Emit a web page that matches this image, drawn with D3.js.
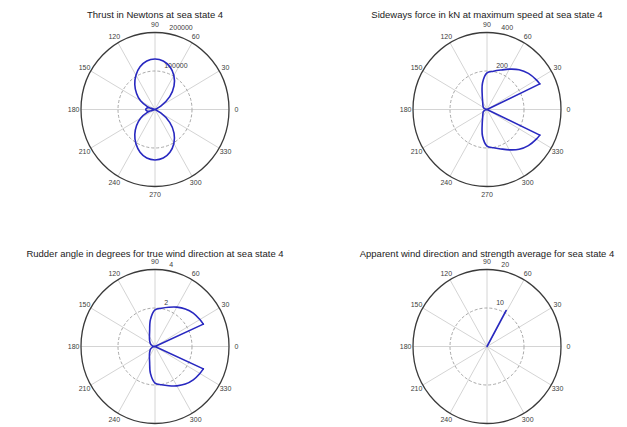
<!DOCTYPE html>
<html><head><meta charset="utf-8">
<script src="https://cdn.jsdelivr.net/npm/d3@7"></script>
<style>body{margin:0;background:#fff}svg{display:block}</style>
</head><body>
<svg id="c" width="627" height="427"></svg>
<script>
// ---- data ----
const titles = [
  "Thrust in Newtons at sea state 4",
  "Sideways force in kN at maximum speed at sea state 4",
  "Rudder angle in degrees for true wind direction at sea state 4",
  "Apparent wind direction and strength average for sea state 4"
];
const rMaxes = [200000, 400, 4, 20];
const rTicks = [[100000, 200000], [200, 400], [2, 4], [10, 20]];
const angleLabels = [0, 30, 60, 90, 120, 150, 180, 210, 240, 270, 300, 330];

const thrustAngles = [0,10,20,30,40,50,60,70,80,90,100,110,120,130,140,150,160,170,180,190,200,210,220,230,240,250,260,270,280,290,300,310,320,330,340,350];
const thrustValues = [-25000,-22000,-10000,18000,52000,80000,102000,118000,128000,131000,128000,118000,103000,85000,65000,45000,22000,6000,0,6000,22000,45000,65000,85000,103000,118000,128000,131000,128000,118000,102000,80000,52000,18000,-10000,-22000];

const sideAngles = [25,30,40,50,60,70,80,90,100,110,120,130,140,150,160,170,180,190,200,210,220,230,240,250,260,270,280,290,300,310,320,330,335];
const sideValues = [315,308,292,270,242,218,202,190,140,75,47,35,28,23,16,8,0,8,16,23,28,35,47,75,140,190,202,218,242,270,292,308,315];

const rudderAngles = [24,30,40,50,60,70,80,90,100,110,120,130,140,150,160,170,180,190,200,210,220,230,240,250,260,270,280,290,300,310,320,330,336];
const rudderValues = [2.86,2.8,2.7,2.55,2.36,2.17,2.02,1.9,1.42,0.85,0.6,0.46,0.36,0.28,0.19,0.1,0,0.1,0.19,0.28,0.36,0.46,0.6,0.85,1.42,1.9,2.02,2.17,2.36,2.55,2.7,2.8,2.86];

const windAngles = [61, 61];
const windValues = [0, 10.7];

const seriesAngles = [thrustAngles, sideAngles, rudderAngles, windAngles];
const seriesValues = [thrustValues, sideValues, rudderValues, windValues];
// how each series is joined: closed smooth loop, smooth arc closed through the pole, straight line
const seriesKind = ["closed", "pole", "pole", "line"];

// ---- layout ----
const centers = [[155, 109.5], [487, 109.5], [155, 346.5], [487, 346.5]];
const titleY = [17.5, 17.5, 256.5, 256.5];
const RX = 74, RY = 77;
const FONT = "'Liberation Sans', Arial, Helvetica, sans-serif";
const rad = d => d * Math.PI / 180;

const svg = d3.select("#c");

for (let k = 0; k < 4; k++) {
  const [cx, cy] = centers[k];
  const rmax = rMaxes[k];
  const sx = d3.scaleLinear().domain([0, rmax]).range([0, RX]);
  const sy = d3.scaleLinear().domain([0, rmax]).range([0, RY]);
  const px = (a, v) => cx + sx(v) * Math.cos(rad(a));
  const py = (a, v) => cy - sy(v) * Math.sin(rad(a));
  const g = svg.append("g");

  g.append("ellipse").attr("cx", cx).attr("cy", cy).attr("rx", sx(rmax)).attr("ry", sy(rmax))
    .attr("fill", "#fff").attr("stroke", "none");

  // spokes
  g.selectAll("line.spoke").data(angleLabels.filter(a => a < 180)).join("line")
    .attr("class", "spoke")
    .attr("x1", a => px(a, rmax)).attr("y1", a => py(a, rmax))
    .attr("x2", a => px(a + 180, rmax)).attr("y2", a => py(a + 180, rmax))
    .attr("stroke", "#d4d4d4").attr("stroke-width", 1);

  // inner dashed circles
  g.selectAll("ellipse.ring").data(rTicks[k].filter(t => t < rmax)).join("ellipse")
    .attr("class", "ring")
    .attr("cx", cx).attr("cy", cy).attr("rx", t => sx(t)).attr("ry", t => sy(t))
    .attr("fill", "none").attr("stroke", "#a8a8a8").attr("stroke-width", 1)
    .attr("stroke-dasharray", "3,2");

  // outer circle
  g.append("ellipse").attr("cx", cx).attr("cy", cy).attr("rx", sx(rmax)).attr("ry", sy(rmax))
    .attr("fill", "none").attr("stroke", "#3a3a3a").attr("stroke-width", 1.3);

  // radial tick labels (at 82 degrees)
  const rinc = rTicks[k][0];
  g.selectAll("text.rt").data(rTicks[k]).join("text")
    .attr("class", "rt")
    .attr("x", t => px(82, t + rinc / 20) + 3.8)
    .attr("y", t => py(82, t + rinc / 20) - 1.8)
    .attr("font-family", FONT).attr("font-size", 7).attr("fill", "#404040")
    .text(t => String(t));

  // angle labels
  g.selectAll("text.al").data(angleLabels).join("text")
    .attr("class", "al")
    .attr("x", a => px(a, rmax * 1.1))
    .attr("y", a => py(a, rmax * 1.1) + 2.5)
    .attr("text-anchor", "middle")
    .attr("font-family", FONT).attr("font-size", 7).attr("fill", "#404040")
    .text(a => String(a));

  // data line
  const pts = seriesAngles[k].map((a, i) => [px(a, seriesValues[k][i]), py(a, seriesValues[k][i])]);
  const style = sel => sel.attr("fill", "none").attr("stroke", "#2828c0").attr("stroke-width", 1.6)
    .attr("stroke-linejoin", "round").attr("stroke-linecap", "round");
  if (seriesKind[k] === "closed") {
    g.append("path").attr("d", d3.line().curve(d3.curveCatmullRomClosed.alpha(0.5))(pts)).call(style);
  } else if (seriesKind[k] === "pole") {
    g.append("path").attr("d", d3.line().curve(d3.curveCatmullRom.alpha(0.5))(pts)).call(style);
    const pole = [px(0, 0), py(0, 0)];
    g.append("path").attr("d", d3.line()([pts[pts.length - 1], pole, pts[0]])).call(style);
  } else {
    g.append("path").attr("d", d3.line()(pts)).call(style);
  }

  // title
  svg.append("text").attr("x", cx).attr("y", titleY[k])
    .attr("text-anchor", "middle").attr("font-family", FONT).attr("font-size", 9.5)
    .attr("fill", "#222").text(titles[k]);
}
</script>
</body></html>
